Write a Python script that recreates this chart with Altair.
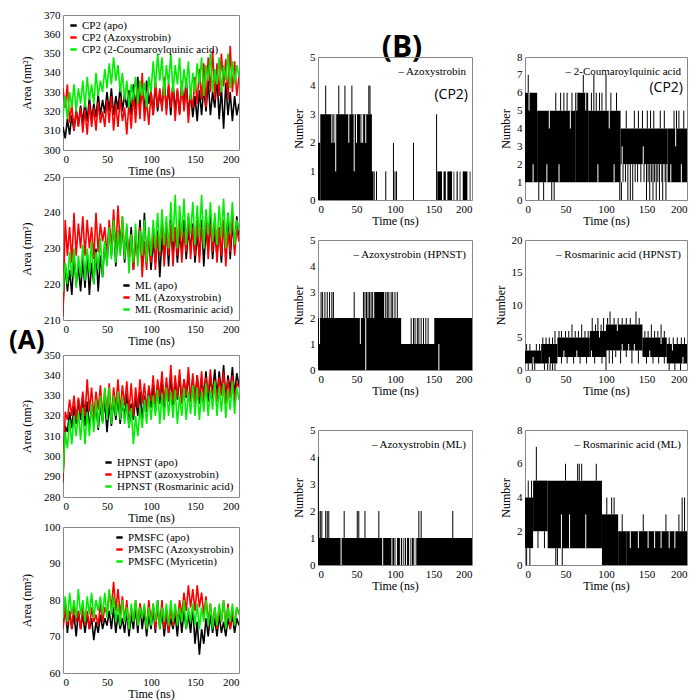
import altair as alt
import pandas as pd

# ---------------- (A) SASA time series, values every 2.5 ns (0..200) ----------------
CP2_apo = [312,306,316,308,318,310,321,313,323,314,
           325,315,327,316,324,317,329,318,326,319,
           330,320,332,318,328,321,333,320,329,322,
           331,318,334,321,338,322,333,320,336,324,
           331,318,334,320,330,322,336,321,333,318,
           335,320,331,319,334,322,337,318,330,317,
           328,315,331,318,333,320,336,318,330,322,
           338,316,332,311,335,318,330,315,328,318,324]
CP2_azo = [332,322,334,314,324,310,320,312,322,309,
           321,308,324,312,322,310,325,314,320,312,
           326,314,328,310,324,312,327,315,322,308,
           325,311,329,314,332,316,340,315,326,313,
           330,318,336,322,332,320,338,318,335,322,
           334,315,332,318,336,320,333,314,329,322,
           338,324,342,326,345,322,348,330,352,326,
           345,328,350,333,347,326,354,330,346,328,338]
CP2_cou = [318,328,316,330,322,334,320,332,324,336,
           322,338,326,334,324,340,328,336,330,342,
           332,345,334,348,336,344,330,340,326,336,
           322,334,326,338,324,336,328,335,322,338,
           330,346,332,350,336,348,328,344,334,350,
           330,344,334,348,328,342,332,346,326,340,
           330,345,334,348,328,344,336,350,330,342,
           334,348,330,344,336,350,332,346,334,344,338]

ML_apo = [214,226,218,224,217,228,220,225,218,227,
          219,229,217,226,220,230,218,228,222,232,
          226,236,228,238,225,235,229,237,226,234,
          227,236,224,233,228,238,225,240,226,234,
          224,232,226,235,222,233,227,236,225,238,
          228,236,226,234,229,238,227,235,230,237,
          226,234,228,238,225,236,229,239,227,235,
          228,236,226,238,229,240,227,237,230,239,232]
ML_azo = [211,238,228,236,226,240,228,237,230,239,
          228,238,230,236,227,240,229,237,232,236,
          228,238,230,241,229,242,231,239,228,236,
          226,234,224,233,227,236,222,232,224,235,
          226,236,224,234,228,238,225,235,228,237,
          225,236,228,238,226,235,229,239,227,236,
          228,238,226,236,230,240,227,237,229,238,
          226,236,228,238,225,235,229,240,228,236,232]
ML_ros = [218,226,220,229,222,230,219,228,222,231,
          221,230,223,232,220,229,224,233,222,232,
          225,236,227,238,226,235,228,239,227,237,
          223,234,226,237,225,235,228,238,226,236,
          228,238,230,240,229,241,231,239,230,243,
          232,245,230,242,233,244,231,240,234,243,
          231,242,233,245,230,241,234,243,232,240,
          231,242,233,244,230,240,234,243,231,238,235]

HP_apo = [290,315,312,322,314,325,316,328,318,330,
          315,327,314,324,316,326,313,325,317,328,
          312,326,315,328,318,330,316,327,319,331,
          314,326,318,329,320,332,318,330,322,333,
          324,336,322,334,326,338,324,336,327,339,
          325,337,328,340,326,338,329,341,327,339,
          328,340,326,338,330,342,327,339,331,343,
          329,342,331,345,328,340,332,344,330,341,335]
HP_azo = [287,322,318,328,320,330,318,329,321,332,
          320,338,322,334,319,332,323,335,320,333,
          322,336,318,334,324,338,322,335,325,337,
          322,336,320,334,324,338,326,336,323,335,
          327,340,325,338,329,342,326,339,328,345,
          327,340,329,343,326,338,330,344,327,341,
          326,340,329,342,327,339,331,343,328,338,
          327,339,330,342,326,338,329,340,327,336,334]
HP_ros = [292,312,304,318,306,320,310,322,308,324,
          306,322,310,326,312,328,314,330,316,334,
          318,334,316,330,320,332,318,329,316,326,
          314,324,306,320,310,324,314,328,316,330,
          318,330,320,333,316,331,318,334,320,332,
          319,333,316,330,320,334,318,332,321,335,
          320,334,318,332,322,336,320,333,323,337,
          320,334,322,336,319,333,323,337,321,334,328]

PM_apo = [73,79,71,77,72,76,70,77,72,76,
          71,76,72,75,69,74,71,76,72,75,
          73,77,72,78,71,76,72,75,71,77,
          70,76,72,78,71,79,72,77,70,76,
          72,78,71,80,72,77,70,76,71,75,
          72,76,70,78,71,77,72,76,71,78,
          68,74,65,72,68,75,70,76,71,75,
          70,76,71,74,70,75,72,76,71,75,73]
PM_azo = [72,78,73,77,72,79,74,77,72,78,
          73,77,72,78,74,76,73,79,74,78,
          76,82,78,85,77,83,76,81,74,80,
          72,78,74,80,73,79,75,78,72,80,
          74,79,72,78,73,80,72,77,71,78,
          73,78,74,80,76,82,77,84,78,83,
          77,84,78,82,76,81,74,79,73,78,
          72,78,74,80,73,79,72,77,73,78,76]
PM_myr = [75,81,74,82,76,80,75,83,76,80,
          74,81,76,82,75,80,77,81,76,82,
          75,83,76,81,74,79,73,80,74,78,
          72,79,74,80,73,78,75,79,72,78,
          73,79,74,80,72,78,74,79,73,80,
          74,79,73,78,74,80,72,78,74,79,
          73,79,72,78,74,80,73,79,72,78,
          73,79,74,80,72,78,74,79,73,78,76]

# ---------------- (B) hydrogen bond numbers ----------------
# bands: (start ns, end ns, low, high) filled; spikes: (t, low, high); gaps: white (t, low, high)
B1_bands = [(0,3,0,2),(3,70,0,3),(65,72,0,1),(155,161,0,1),(163,166,0,1),(168,174,0,1),
            (176,177,0,1),(180,181.5,0,1),(184,185,0,1),(188,194,0,1),(197,198,0,1)]
B1_spikes = [(10,3,4),(27,3,4),(35,3,4),(44,3,4),(66,3,4),(67.5,3,4),
             (73,0,1),(76,0,1),(88,0,1),(100,0,1),(102,0,1),(98,0,2),(124,0,2),(154,0,3)]
B1_gaps = [(18,2,3),(21,2,3),(40,2,3),(50,2,3),(56,2,3),(58,2,3),(62,2,3),(23,1,3),(47,1,3)]

B2_bands = [(0,15,1,6),(15,62,1,5),(62,78,1,6),(78,118,1,5),(118,176,2,4),(176,200,1,4)]
B2_spikes = [(4,6,7),(72,6,7),(85,5,7),(100,5,7),
             (38,5,6),(44,5,6),(48,5,6),(52,5,6),(58,5,6),(82,5,6),(88,5,6),(92,5,6),(95,5,6),(106,5,6),(113,5,6),
             (125,4,5),(135,4,5),(140,4,5),(145,4,5),(151,4,5),(155,4,5),(159,4,5),(167,4,5),(172,4,5),
             (184,4,5),(187,4,5),(190,4,5),(196,4,5),
             (17,0,1),(23,0,1),(33,0,1),(36,0,1),(117,0,1),(119,0,1),(127,0,2),(130,0,2),(133,0,2),
             (150,0,2),(154,0,2),(158,0,2),(162,0,2),(166,0,2),(170,0,2),(174,0,2),
             (121,1,2),(124,1,2),(136,1,2),(139,1,2),(143,1,2),(147,1,2),(152,1,2),(156,1,2),
             (160,1,2),(164,1,2),(169,1,2),(173,1,2)]
B2_gaps = [(5,5,6),(10,1,2),(27,1,2),(120,2,3),(146,2,3),(180,1,2),
           (30,4,5),(42,1,2),(56,4,5),(90,1,2),(104,4,5),(110,1,2),(64,5,6),(75,5,6),(186,3,4),(193,1,2)]

B3_bands = [(0,200,0,1),(0,108,1,2),(151,200,1,2),(73,86,2,3)]
B3_spikes = [(4,2,3),(6,2,3),(9,2,3),(12,2,3),(15,2,3),(18,2,3),(20,2,3),(47,2,3),(59,2,3),(61,2,3),
             (63,2,3),(65,2,3),(67,2,3),(69,2,3),(71,2,3),(88,2,3),(90,2,3),(92,2,3),(95,2,3),(97,2,3),
             (100,2,3),(103,2,3),
             (121,1,2),(124,1,2),(126,1,2),(129,1,2),(131,1,2),(134,1,2),(137,1,2),(140,1,2),(143,1,2)]
B3_gaps = [(62,0,2),(157,0,1),(2,1,2),(55,1,2)]

B4_bands = [(0,20,1,3),(20,40,1,4),(40,80,2,5),(80,100,2,6),(100,145,3,7),(145,175,2,5),(175,200,1,4)]
B4_spikes = [(2,3,4),(6,3,4),(14,3,4),(18,3,4),(22,4,5),(26,4,5),(30,4,5),(34,4,5),(37,4,6),
             (42,5,6),(45,5,6),(50,5,6),(54,5,6),(58,5,7),(62,5,6),(66,5,6),(70,5,7),(74,5,6),(78,5,6),
             (83,6,8),(87,6,7),(90,6,8),(94,6,7),(97,6,8),
             (102,7,8),(105,7,9),(110,7,8),(115,7,8),(120,7,8),(125,7,8),(130,7,8),(137,7,9),(141,7,8),
             (148,5,6),(152,5,6),(156,5,7),(160,5,6),(164,5,6),(168,5,7),(172,5,6),
             (178,4,5),(183,4,5),(188,4,5),(193,4,5),(197,4,5),
             (4,0,1),(9,0,1),(12,0,1),(24,0,1),(28,0,1),(31,0,1),(34,0,1),(37,0,1),
             (45,1,2),(52,1,2),(60,1,2),(68,1,2),(76,1,2),(86,1,2),(95,1,2),
             (100,0,3),(104,1,3),(108,1,3),(112,2,3),(118,1,3),(125,2,3),(132,1,3),(140,1,3),
             (150,1,2),(158,1,2),(165,1,2),(172,1,2),(178,0,1),(185,0,1),(192,0,1)]
B4_gaps = [(120,3,4),(128,3,4),(135,3,4),(10,1,2),(30,1,2),(48,2,3),(64,2,3),(82,2,3),
           (92,5,6),(114,6,7),(154,2,3),(168,4,5),(182,3,4),(195,1,2)]

B5_bands = [(0,200,0,1)]
B5_spikes = [(1,1,2),(3,1,2),(5,1,2),(10,1,2),(12,1,2),(14,1,2),(34,1,2),(51,1,2),(53,1,2),
             (61,1,2),(79,1,2),(131,1,2),(134,1,2),(175,1,2),(0.5,1,4)]
B5_gaps = [(30,0,1),(84,0,1),(96,0,1),(100,0,1),(102,0,1),(107,0,1),(110,0,1),(112,0,1),
           (115,0,1),(119,0,1),(121,0,1),(125,0,1),(127,0,1)]

B6_bands = [(0,10,1,4),(10,28,2,5),(28,95,1,5),(95,115,0,3),(115,125,0,2),(125,200,0,2)]
B6_spikes = [(14,5,7),(50,5,6),(65,5,6),(67,5,6),(70,5,6),(88,5,6),(4,4,5),(8,4,5),
             (101,3,4),(107,3,4),(110,3,4),(120,2,3),(146,2,3),(174,2,3),(190,2,3),(194,2,4),(197,2,4),
             (2,0,1),(6,0,1),(38,0,1),(40,0,1),(46,0,1),(16,1,2),(24,1,2)]
B6_gaps = [(130,1,2),(140,1,2),(152,1,2),(160,1,2),(168,1,2),(178,1,2),(185,1,2),
           (45,1,3),(55,1,3),(75,1,3)]

SERIF = "Liberation Serif"
SANS = "Open Sans"
COLORS = ["#000000", "#ff0000", "#00ee00"]
NOFRAME = alt.ViewBackground(stroke="transparent")


def a_panel(names, series, ydom, ystep, xstep, orient, w, h, extra=None):
    xs = alt.X("t:Q", scale=alt.Scale(domain=[0, 200], nice=False),
               axis=alt.Axis(values=list(range(0, 201, xstep)), title="Time (ns)", grid=False,
                             ticks=False, domain=False, labelPadding=3, titlePadding=1))
    ys = alt.Y("v:Q", scale=alt.Scale(domain=ydom, nice=False, zero=False),
               axis=alt.Axis(values=list(range(ydom[0], ydom[1] + 1, ystep)), title="Area (nm²)",
                             grid=False, ticks=False, domain=False, labelPadding=3, titlePadding=10))
    col = alt.Color("s:N", scale=alt.Scale(domain=names, range=COLORS),
                    legend=alt.Legend(title=None, orient=orient, offset=5, labelFont=SERIF,
                                      labelFontSize=11, symbolType="stroke", symbolSize=40,
                                      symbolStrokeWidth=2.5, rowPadding=0, labelOffset=3,
                                      padding=0, labelColor="black"))
    layers = []
    for n, vals in zip(names, series):
        df = pd.DataFrame({"t": [i * 2.5 for i in range(len(vals))], "v": vals, "s": n})
        layers.append(alt.Chart(df).mark_line(strokeWidth=1.6, clip=True).encode(x=xs, y=ys, color=col))
    if extra is not None:
        layers.append(extra)
    return alt.layer(*layers).properties(width=w, height=h)


def b_panel(bands, spikes, gaps, ydom, yvals, w, h, label, sub=None, sub_y=36):
    xa = alt.Axis(values=[0, 50, 100, 150, 200], title="Time (ns)", grid=False, ticks=False,
                  domain=False, labelPadding=3, titlePadding=1)
    ya = alt.Axis(values=yvals, title="Number", grid=False, ticks=False, domain=False,
                  labelPadding=3, titlePadding=4)
    xsc = alt.Scale(domain=[0, 200], nice=False)
    ysc = alt.Scale(domain=ydom, nice=False)
    bdf = pd.DataFrame(bands, columns=["a", "b", "lo", "hi"])
    sdf = pd.DataFrame(spikes, columns=["t", "lo", "hi"])
    gdf = pd.DataFrame(gaps, columns=["t", "lo", "hi"])
    rect = alt.Chart(bdf).mark_rect(color="black").encode(
        x=alt.X("a:Q", scale=xsc, axis=xa), x2="b:Q",
        y=alt.Y("lo:Q", scale=ysc, axis=ya), y2="hi:Q")
    sp = alt.Chart(sdf).mark_rule(color="black", strokeWidth=1).encode(
        x=alt.X("t:Q", scale=xsc, axis=xa), y=alt.Y("lo:Q", scale=ysc, axis=ya), y2="hi:Q")
    gp = alt.Chart(gdf).mark_rule(color="white", strokeWidth=1).encode(
        x=alt.X("t:Q", scale=xsc, axis=xa), y=alt.Y("lo:Q", scale=ysc, axis=ya), y2="hi:Q")
    lab = alt.Chart(pd.DataFrame({"l": ["– " + label]})).mark_text(
        font=SERIF, fontSize=11, align="right", baseline="middle", color="black").encode(
        text="l:N", x=alt.value(w - 6), y=alt.value(15))
    layers = [rect, sp, gp, lab]
    if sub:
        layers.append(alt.Chart(pd.DataFrame({"l": [sub]})).mark_text(
            font=SANS, fontSize=14, align="right", baseline="middle", color="black").encode(
            text="l:N", x=alt.value(w - 4), y=alt.value(sub_y)))
    return alt.layer(*layers).properties(width=w, height=h)


def spacer(w, h, text="", **kw):
    return alt.Chart(pd.DataFrame({"l": [text]})).mark_text(**kw).encode(
        text="l:N", **({} if not text else {"x": alt.value(84), "y": alt.value(33)})).properties(
        width=w, height=h, view=NOFRAME)


LW = 176
A_label = alt.Chart(pd.DataFrame({"l": ["(A)"]})).mark_text(
    font=SANS, fontSize=26, fontWeight="bold", align="left", baseline="middle", color="black").encode(
    text="l:N", x=alt.value(-54), y=alt.value(-14))

A1 = a_panel(["CP2 (apo)", "CP2 (Azoxystrobin)", "CP2 (2-Coumaroylquinic acid)"],
             [CP2_apo, CP2_azo, CP2_cou], [300, 370], 10, 25, "top-left", LW, 135)
A2 = a_panel(["ML (apo)", "ML (Azoxystrobin)", "ML (Rosmarinic acid)"],
             [ML_apo, ML_azo, ML_ros], [210, 250], 10, 50, "bottom-right", LW, 143)
A3 = a_panel(["HPNST (apo)", "HPNST (azoxystrobin)", "HPNST (Rosmarinic acid)"],
             [HP_apo, HP_azo, HP_ros], [280, 350], 10, 25, "bottom-right", LW, 142, extra=A_label)
A4 = a_panel(["PMSFC (apo)", "PMSFC (Azoxystrobin)", "PMSFC (Myricetin)"],
             [PM_apo, PM_azo, PM_myr], [60, 100], 10, 25, "top-right", LW, 146)

BW1, BW2 = 154, 162
B1 = b_panel(B1_bands, B1_spikes, B1_gaps, [0, 5], [0, 1, 2, 3, 4, 5], BW1, 143, "Azoxystrobin", "(CP2)", 38)
B2 = b_panel(B2_bands, B2_spikes, B2_gaps, [0, 8], list(range(9)), BW2, 143, "2-Coumaroylquinic acid", "(CP2)", 31)
B3 = b_panel(B3_bands, B3_spikes, B3_gaps, [0, 5], [0, 1, 2, 3, 4, 5], BW1, 130, "Azoxystrobin (HPNST)")
B4 = b_panel(B4_bands, B4_spikes, B4_gaps, [0, 20], [0, 5, 10, 15, 20], BW2, 130, "Rosmarinic acid (HPNST)")
B5 = b_panel(B5_bands, B5_spikes, B5_gaps, [0, 5], [0, 1, 2, 3, 4, 5], BW1, 135, "Azoxystrobin (ML)")
B6 = b_panel(B6_bands, B6_spikes, B6_gaps, [0, 8], [0, 2, 4, 6, 8], BW2, 135, "Rosmarinic acid (ML)")

HDR = 23
header = spacer(BW1, HDR, "(B)", font=SANS, fontSize=30, fontWeight="bold", align="center",
                baseline="middle", color="black")

left = alt.vconcat(A1, spacer(LW, 3), A2, spacer(LW, 11), A3, spacer(LW, 6), A4,
                   spacing=12, bounds="flush").resolve_scale(color="independent")
bcol1 = alt.vconcat(header, B1, spacer(BW1, 2), B3, spacer(BW1, 22), B5, spacing=19, bounds="flush")
bcol2 = alt.vconcat(spacer(BW2, HDR), B2, spacer(BW2, 2), B4, spacer(BW2, 22), B6, spacing=19, bounds="flush")
right = alt.hconcat(bcol1, bcol2, spacing=20)

chart = alt.hconcat(left, right, spacing=52).resolve_scale(
    color="independent").properties(padding=0).configure_axis(
    labelFont=SERIF, titleFont=SERIF, labelFontSize=11, titleFontSize=12,
    titleFontWeight="normal", labelColor="black", titleColor="black").configure_view(
    stroke="#888888", strokeWidth=1)

chart.save("out.html", embed_options={"renderer": "svg", "actions": False})
